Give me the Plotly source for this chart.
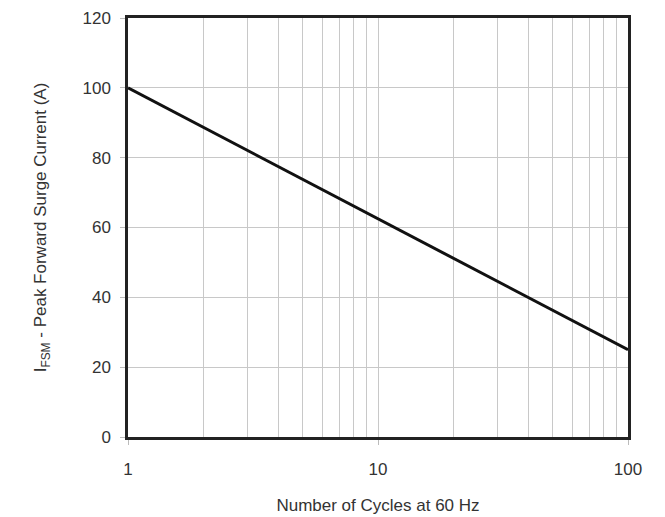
import plotly.graph_objects as go

cycles = [1, 100]
surge_current = [100, 25]
x_major = [1, 10, 100]
x_major_text = ["1", "10", "100"]
x_minor = [2, 3, 4, 5, 6, 7, 8, 9, 20, 30, 40, 50, 60, 70, 80, 90]
y_ticks = [0, 20, 40, 60, 80, 100, 120]

fig = go.Figure()
fig.add_trace(go.Scatter(x=cycles, y=surge_current, mode="lines",
                         line=dict(color="#111111", width=3), showlegend=False))

font = dict(family="Liberation Sans, Arial, sans-serif", size=17, color="#333333")

fig.update_layout(
    width=665, height=517,
    margin=dict(l=120, r=45, t=10, b=88),
    paper_bgcolor="white", plot_bgcolor="white",
    font=font,
    xaxis=dict(
        type="log", range=[0, 2], automargin=False,
        tickmode="array", tickvals=x_major, ticktext=x_major_text,
        showgrid=True, gridcolor="#c8c8c8", gridwidth=1,
        minor=dict(tickmode="array", tickvals=x_minor, showgrid=True,
                   gridcolor="#c8c8c8", gridwidth=1, ticks=""),
        showline=True, linecolor="#222222", linewidth=2.5, mirror=True,
        ticks="outside", ticklen=5, tickcolor="#bbbbbb",
        ticklabelstandoff=10, ticklabeloverflow="allow",
        title=dict(text="Number of Cycles at 60 Hz", standoff=21, font=font),
        zeroline=False,
    ),
    yaxis=dict(
        range=[0, 120], tickmode="array", tickvals=y_ticks, automargin=False,
        showgrid=True, gridcolor="#c8c8c8", gridwidth=1,
        showline=True, linecolor="#222222", linewidth=2.5, mirror=True,
        ticks="outside", ticklen=5, tickcolor="#bbbbbb",
        ticklabelstandoff=6, ticklabeloverflow="allow",
        title=dict(text="I<sub>FSM</sub> - Peak Forward Surge Current (A)", standoff=32, font=font),
        zeroline=False,
    ),
)

fig.write_html("out.html")
